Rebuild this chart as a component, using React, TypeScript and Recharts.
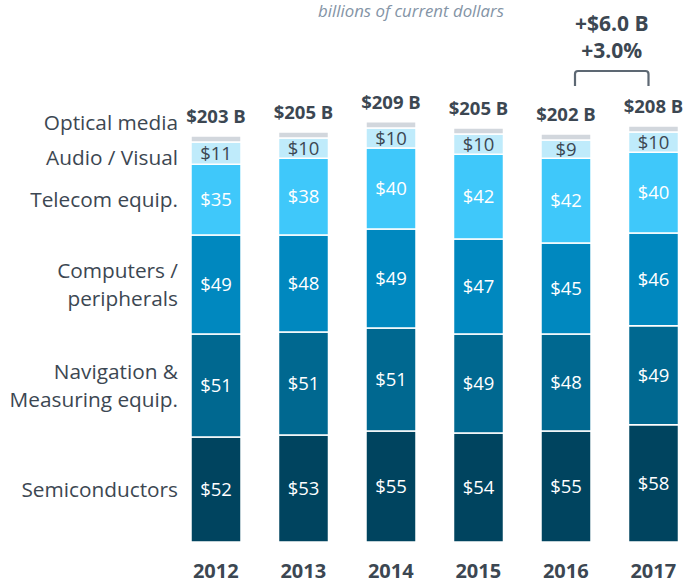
import React from "react";
import { BarChart, Bar, XAxis, YAxis, LabelList } from "recharts";

const years = ["2012", "2013", "2014", "2015", "2016", "2017"];
const semiconductors = [52, 53, 55, 54, 55, 58];
const navigation = [51, 51, 51, 49, 48, 49];
const computers = [49, 48, 49, 47, 45, 46];
const telecom = [35, 38, 40, 42, 42, 40];
const audioVisual = [11, 10, 10, 10, 9, 10];
const opticalMedia = [3, 3, 3, 3, 3, 3];
const totals = [203, 205, 209, 205, 202, 208];
const changeLabel = "+$6.0 B";
const changePct = "+3.0%";
const subtitle = "billions of current dollars";

const data = years.map((y, i) => ({
  year: y,
  semi: semiconductors[i],
  nav: navigation[i],
  comp: computers[i],
  tel: telecom[i],
  av: audioVisual[i],
  opt: opticalMedia[i],
  total: totals[i],
}));

const FONT = "'Open Sans', 'Noto Sans', sans-serif";
const DARK = "#3c4752";

const W = 700;
const H = 583;
const ML = 172;
const MR = 3;
const STEP = (W - ML - MR) / years.length;

type SeriesDef = {
  key: string;
  name: string[];
  color: string;
  text: string;
  nameDy: number;
  showValue: boolean;
};

const series: SeriesDef[] = [
  { key: "semi", name: ["Semiconductors"], color: "#00445f", text: "#ffffff", nameDy: 0, showValue: true },
  { key: "nav", name: ["Navigation &", "Measuring equip."], color: "#006890", text: "#ffffff", nameDy: 0, showValue: true },
  { key: "comp", name: ["Computers /", "peripherals"], color: "#0088bf", text: "#ffffff", nameDy: 0, showValue: true },
  { key: "tel", name: ["Telecom equip."], color: "#3fc8fa", text: "#ffffff", nameDy: 0, showValue: true },
  { key: "av", name: ["Audio / Visual"], color: "#bfebfb", text: DARK, nameDy: 4, showValue: true },
  { key: "opt", name: ["Optical media"], color: "#d2d7dd", text: DARK, nameDy: -17, showValue: false },
];

const makeValueLabel = (s: SeriesDef) => (props: any) => {
  const { x, y, width, height, value } = props;
  if (!s.showValue) return null;
  return (
    <text
      x={x + width / 2}
      y={y + height / 2}
      dy={6.5}
      textAnchor="middle"
      fill={s.text}
      fontFamily={FONT}
      fontSize={18.5}
    >
      {"$" + value}
    </text>
  );
};

const makeNameLabel = (s: SeriesDef) => (props: any) => {
  const { x, y, height, index } = props;
  if (index !== 0) return null;
  const cy = y + height / 2 + s.nameDy;
  const lh = 28;
  const n = s.name.length;
  return (
    <g>
      {s.name.map((line, i) => (
        <text
          key={i}
          x={x - 13}
          y={cy + (i - (n - 1) / 2) * lh}
          dy={7.5}
          textAnchor="end"
          fill={DARK}
          fontFamily={FONT}
          fontSize={20.8}
        >
          {line}
        </text>
      ))}
    </g>
  );
};

const TotalLabel = (props: any) => {
  const { x, y, width, index } = props;
  const cx = x + width / 2;
  const els: React.ReactNode[] = [
    <text
      key="t"
      x={cx}
      y={y - 13}
      textAnchor="middle"
      fill={DARK}
      fontFamily={FONT}
      fontWeight={700}
      fontSize={18.5}
    >
      {"$" + totals[index] + " B"}
    </text>,
  ];
  if (index === years.length - 1) {
    const left = cx - STEP + 9;
    const right = cx - 5;
    const top = 71;
    const bot = 86;
    const r = 3;
    const mid = (left + right) / 2;
    els.push(
      <path
        key="b"
        d={`M${left},${bot} L${left},${top + r} Q${left},${top} ${left + r},${top} L${right - r},${top} Q${right},${top} ${right},${top + r} L${right},${bot}`}
        fill="none"
        stroke="#5d6873"
        strokeWidth={2.2}
      />,
      <text key="c1" x={mid} y={31} textAnchor="middle" fill={DARK} fontFamily={FONT} fontWeight={700} fontSize={21}>
        {changeLabel}
      </text>,
      <text key="c2" x={mid} y={58} textAnchor="middle" fill={DARK} fontFamily={FONT} fontWeight={700} fontSize={21}>
        {changePct}
      </text>
    );
  }
  return <g>{els}</g>;
};

const YearTick = (props: any) => {
  const { x, payload } = props;
  return (
    <text x={x} y={577.5} textAnchor="middle" fill={DARK} fontFamily={FONT} fontWeight={700} fontSize={20}>
      {payload.value}
    </text>
  );
};

export default function App() {
  return (
    <div style={{ position: "absolute", left: 0, top: 0, width: 688, height: 583, overflow: "hidden", background: "#fff" }}>
      <BarChart
        width={W}
        height={H}
        data={data}
        margin={{ top: 97.6, right: MR, bottom: 0, left: ML }}
        barSize={50}
      >
        <text x={411} y={17} textAnchor="middle" fill="#8494a6" fontFamily={FONT} fontStyle="italic" fontSize={16.8}>
          {subtitle}
        </text>
        <XAxis dataKey="year" axisLine={false} tickLine={false} height={41} tick={<YearTick />} interval={0} />
        <YAxis hide domain={[0, 220]} />
        {series.map((s) => (
          <Bar
            key={s.key}
            dataKey={s.key}
            stackId="a"
            fill={s.color}
            stroke="#ffffff"
            strokeWidth={1.5}
            isAnimationActive={false}
          >
            <LabelList dataKey={s.key} content={makeValueLabel(s)} />
            <LabelList dataKey={s.key} content={makeNameLabel(s)} />
            {s.key === "opt" ? <LabelList dataKey="total" content={TotalLabel} /> : null}
          </Bar>
        ))}
      </BarChart>
    </div>
  );
}
